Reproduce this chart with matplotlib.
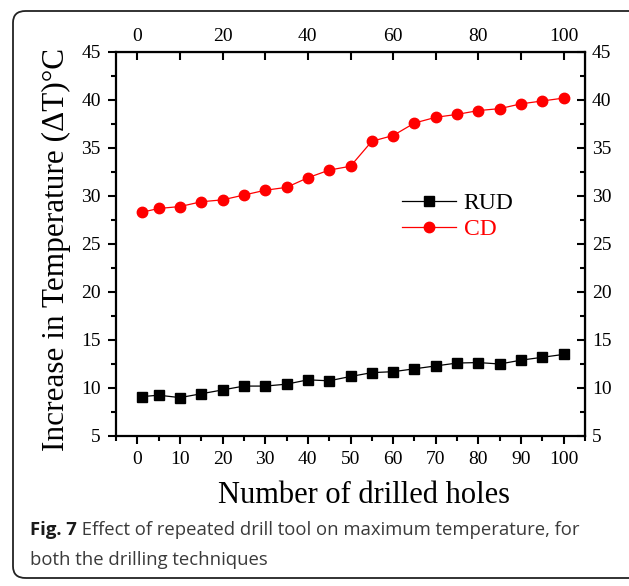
import matplotlib
matplotlib.use("Agg")
import matplotlib.pyplot as plt
from matplotlib.patches import FancyBboxPatch
from matplotlib.ticker import MultipleLocator, FixedLocator, FixedFormatter

holes = [1, 5, 10, 15, 20, 25, 30, 35, 40, 45, 50, 55, 60, 65, 70, 75, 80, 85, 90, 95, 100]
rud = [9.1, 9.25, 9.0, 9.4, 9.8, 10.2, 10.2, 10.4, 10.85, 10.75, 11.2, 11.6, 11.7, 12.0, 12.3, 12.6, 12.65, 12.5, 12.9, 13.2, 13.5]
cd = [28.3, 28.7, 28.9, 29.4, 29.6, 30.1, 30.6, 30.9, 31.9, 32.7, 33.1, 35.7, 36.3, 37.6, 38.2, 38.5, 38.9, 39.1, 39.6, 39.9, 40.2]
series_names = ["RUD", "CD"]
top_ticks = [0, 10, 20, 30, 40, 50, 60, 70, 80, 90, 100]
top_labels = ["0", "", "20", "", "40", "", "60", "", "80", "", "100"]
xlabel = "Number of drilled holes"
ylabel = "Increase in Temperature (\u0394T)\u00b0C"
caption_bold = "Fig. 7"
caption_rest = " Effect of repeated drill tool on maximum temperature, for"
caption_line2 = "both the drilling techniques"

W, H = 629, 586
fig = plt.figure(figsize=(W / 100, H / 100), dpi=100)

# rounded border (extends past the right edge)
border = FancyBboxPatch((13 / W, 1 - 578 / H), 700 / W, (578 - 11) / H,
                        boxstyle="round,pad=0,rounding_size=0.02",
                        transform=fig.transFigure, fill=False,
                        edgecolor="#222222", linewidth=1.3, clip_on=False)
fig.patches.append(border)

ax = fig.add_axes([116 / W, 1 - 436 / H, (585 - 116) / W, (436 - 52) / H])
serif = ["Liberation Serif", "DejaVu Serif"]
tsize = 14

ax.plot(holes, rud, color="black", lw=0.9, marker="s", ms=6.5, label=series_names[0])
ax.plot(holes, cd, color="red", lw=0.9, marker="o", ms=7.5, label=series_names[1])

ax.set_xlim(-5, 105)
ax.set_ylim(5, 45)
ax.xaxis.set_major_locator(MultipleLocator(10))
ax.xaxis.set_minor_locator(MultipleLocator(5))
ax.yaxis.set_major_locator(MultipleLocator(5))
ax.yaxis.set_minor_locator(MultipleLocator(2.5))
ax.tick_params(which="major", direction="out", length=6, width=1.5, labelsize=tsize, pad=5)
ax.tick_params(which="minor", direction="out", length=3.5, width=1.5)
for s in ax.spines.values():
    s.set_linewidth(1.6)
for lab in ax.get_xticklabels() + ax.get_yticklabels():
    lab.set_fontfamily(serif)

ax.set_xlabel(xlabel, fontsize=22, family=serif)
ax.set_ylabel(ylabel, fontsize=22.5, family=serif)
ax.xaxis.set_label_coords(0.529, -0.118)
ax.yaxis.set_label_coords(-0.095, 0.485)

# top axis
top = ax.secondary_xaxis("top")
top.xaxis.set_major_locator(FixedLocator(top_ticks))
top.xaxis.set_major_formatter(FixedFormatter(top_labels))
top.tick_params(which="major", direction="in", length=6, width=1.5, labelsize=tsize, pad=5)
for lab in top.get_xticklabels():
    lab.set_fontfamily(serif)

# right axis
right = ax.secondary_yaxis("right")
right.yaxis.set_major_locator(MultipleLocator(5))
right.yaxis.set_minor_locator(MultipleLocator(2.5))
right.tick_params(which="major", direction="in", length=6, width=1.5, labelsize=tsize, pad=5)
right.tick_params(which="minor", direction="in", length=3.5, width=1.5)
for lab in right.get_yticklabels():
    lab.set_fontfamily(serif)

leg = ax.legend(loc="upper left", bbox_to_anchor=(0.585, 0.665), frameon=False,
                prop={"family": serif, "size": 17}, handlelength=2.3,
                handletextpad=0.3, labelspacing=0.2, borderpad=0,
                labelcolor="linecolor")

# caption
sans = ["Open Sans", "DejaVu Sans"]
csize = 13.3
t1 = fig.text(30 / W, 1 - 535 / H, caption_bold, fontsize=csize, fontweight="bold",
              family=sans, color="#1a1a1a", va="baseline")
fig.canvas.draw()
bb = t1.get_window_extent()
fig.text(bb.x1 / W, 1 - 535 / H, caption_rest, fontsize=csize, family=sans,
         color="#3a3a3a", va="baseline")
fig.text(30 / W, 1 - 565 / H, caption_line2, fontsize=csize, family=sans,
         color="#3a3a3a", va="baseline")

fig.savefig("out.png", dpi=100)
